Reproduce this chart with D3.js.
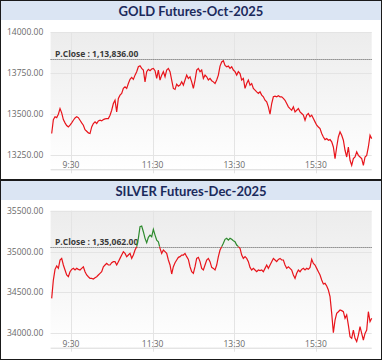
<!DOCTYPE html>
<html>
<head>
<meta charset="utf-8">
<script src="https://cdn.jsdelivr.net/npm/d3@7"></script>
<style>
body { margin: 0; background: #fff; }
svg { display: block; }
</style>
</head>
<body>
<svg width="383" height="362"></svg>
<script>
// x axis: samples every 147 s starting 09:01:36
var firstSample = "09:01:36";
var sampleStep = 147;
var timeTicks = ["09:30", "11:30", "13:30", "15:30"];

var goldTitle = "GOLD Futures-Oct-2025";
var goldTicks = [14000, 13750, 13500, 13250];
var goldClose = 13836;
var goldCloseLabel = "P.Close : 1,13,836.00";
var goldValues = [
    13383, 13468, 13485, 13480, 13501, 13535, 13509, 13468, 13448, 13432,
    13423, 13434, 13448, 13464, 13478, 13485, 13480, 13464, 13448, 13434,
    13407, 13397, 13387, 13383, 13423, 13444, 13454, 13444, 13460, 13464,
    13460, 13468, 13472, 13474, 13474, 13495, 13525, 13566, 13586, 13515,
    13597, 13617, 13627, 13658, 13668, 13658, 13688, 13713, 13725, 13713,
    13739, 13760, 13790, 13796, 13780, 13770, 13698, 13760, 13774, 13766,
    13776, 13780, 13766, 13719, 13770, 13709, 13739, 13760, 13729, 13770,
    13780, 13760, 13709, 13658, 13652, 13684, 13672, 13678, 13698, 13678,
    13709, 13739, 13719, 13729, 13698, 13658, 13709, 13770, 13780, 13760,
    13770, 13719, 13739, 13729, 13709, 13719, 13705, 13698, 13688, 13709,
    13739, 13794, 13819, 13827, 13798, 13790, 13794, 13780, 13790, 13770,
    13760, 13739, 13760, 13749, 13709, 13719, 13658, 13688, 13709, 13678,
    13688, 13658, 13648, 13637, 13627, 13637, 13617, 13607, 13586, 13576,
    13546, 13501, 13566, 13607, 13611, 13607, 13613, 13607, 13607, 13597,
    13586, 13566, 13546, 13535, 13525, 13546, 13515, 13525, 13535, 13515,
    13505, 13495, 13464, 13495, 13505, 13485, 13495, 13474, 13454, 13434,
    13423, 13413, 13383, 13362, 13346, 13352, 13342, 13346, 13332, 13301,
    13230, 13301, 13362, 13393, 13372, 13342, 13281, 13240, 13301, 13220,
    13189, 13230, 13240, 13271, 13250, 13240, 13230, 13189, 13240, 13250,
    13301, 13372, 13352
];

var silverTitle = "SILVER Futures-Dec-2025";
var silverTicks = [35500, 35000, 34500, 34000];
var silverClose = 35062;
var silverCloseLabel = "P.Close : 1,35,062.00";
var silverValues = [
    34428, 34652, 34783, 34824, 34795, 34897, 34917, 34836, 34775, 34714,
    34693, 34754, 34783, 34795, 34775, 34795, 34783, 34775, 34795, 34815,
    34754, 34714, 34693, 34673, 34673, 34665, 34681, 34693, 34714, 34734,
    34754, 34815, 34836, 34856, 34836, 34836, 34864, 34877, 34877, 34836,
    34877, 34917, 34958, 34999, 34978, 34938, 34958, 34978, 34917, 34958,
    35019, 35060, 35162, 35304, 35313, 35243, 35162, 35109, 35174, 35202,
    35182, 35272, 35202, 35141, 35121, 35040, 34978, 35019, 34999, 34978,
    34897, 34836, 34726, 34815, 34864, 34897, 34930, 34938, 34958, 34958,
    34978, 34938, 34905, 34815, 34754, 34734, 34815, 34917, 34930, 34877,
    34795, 34775, 34836, 34897, 34917, 34877, 34807, 34795, 34775, 34836,
    34938, 35019, 35060, 35101, 35150, 35162, 35141, 35162, 35150, 35133,
    35121, 35080, 35060, 35040, 34958, 34917, 34938, 34917, 34877, 34807,
    34775, 34795, 34775, 34754, 34775, 34767, 34775, 34754, 34795, 34836,
    34795, 34836, 34877, 34917, 34897, 34877, 34905, 34917, 34897, 34897,
    34836, 34795, 34815, 34795, 34775, 34714, 34673, 34734, 34775, 34754,
    34783, 34795, 34775, 34795, 34783, 34807, 34905, 34856, 34836, 34795,
    34754, 34714, 34652, 34603, 34612, 34579, 34530, 34449, 34245, 34009,
    34163, 34245, 34265, 34286, 34278, 34265, 34184, 34225, 34102, 33960,
    33939, 34041, 33939, 33899, 33980, 34082, 34000, 33919, 34000, 34041,
    34265, 34143, 34184
];

var svg = d3.select("svg");
var parseTime = d3.timeParse("%H:%M:%S");
var parseTick = d3.timeParse("%H:%M");
var start = parseTime(firstSample);

var x = d3.scaleTime()
    .domain([parseTick("09:00"), parseTick("16:52")])
    .range([50.6, 371.7]);

var defs = svg.append("defs");
var grad = defs.append("linearGradient")
    .attr("id", "plotbg")
    .attr("x1", 0).attr("y1", 0).attr("x2", 0).attr("y2", 1);
grad.append("stop").attr("offset", "0%").attr("stop-color", "#ececec");
grad.append("stop").attr("offset", "100%").attr("stop-color", "#ffffff");

var drawPanel = function(id, top, plotTop, title, ticks, domain, close, closeLabel, values) {
    var g = svg.append("g").attr("transform", "translate(0," + top + ")");
    var plotBottom = plotTop + 137;
    var y = d3.scaleLinear().domain(domain).range([plotBottom, plotTop]);
    var closeY = Math.round(y(close)) + 0.5;

    var data = values.map(function(v, i) {
        return { t: new Date(start.getTime() + i * sampleStep * 1000), v: v };
    });

    // title bar
    g.append("rect")
        .attr("x", 1).attr("y", 1).attr("width", 380).attr("height", 19)
        .attr("fill", "#dbe5f3");
    g.append("text")
        .attr("x", 191).attr("y", 15.5)
        .attr("text-anchor", "middle")
        .attr("font-family", "Lato, sans-serif")
        .attr("font-weight", 700)
        .attr("font-size", "13px")
        .attr("fill", "#1b2a5c")
        .text(title);

    // plot background
    g.append("rect")
        .attr("x", x.range()[0]).attr("y", plotTop)
        .attr("width", x.range()[1] - x.range()[0])
        .attr("height", plotBottom - plotTop)
        .attr("fill", "url(#plotbg)");

    // grid
    g.append("g").selectAll("line").data(ticks).enter().append("line")
        .attr("x1", x.range()[0]).attr("x2", x.range()[1])
        .attr("y1", function(d) { return Math.round(y(d)) + 0.5; })
        .attr("y2", function(d) { return Math.round(y(d)) + 0.5; })
        .attr("stroke", "#e4e4e4");
    g.append("g").selectAll("line").data(timeTicks).enter().append("line")
        .attr("x1", function(d) { return Math.round(x(parseTick(d))) + 0.5; })
        .attr("x2", function(d) { return Math.round(x(parseTick(d))) + 0.5; })
        .attr("y1", plotTop).attr("y2", plotBottom + 4)
        .attr("stroke", "#e4e4e4");
    g.append("line")
        .attr("x1", x.range()[0]).attr("x2", x.range()[1])
        .attr("y1", plotBottom + 0.5).attr("y2", plotBottom + 0.5)
        .attr("stroke", "#d8d8d8");

    // y labels
    g.append("g").selectAll("text").data(ticks).enter().append("text")
        .attr("x", 7)
        .attr("y", function(d) { return y(d) + 3; })
        .attr("font-family", "Open Sans, sans-serif")
        .attr("font-size", "8.5px")
        .attr("fill", "#6a6a6a")
        .text(function(d) { return d3.format(".2f")(d); });

    // x labels
    g.append("g").selectAll("text").data(timeTicks).enter().append("text")
        .attr("x", function(d) { return x(parseTick(d)); })
        .attr("y", plotBottom - 1)
        .attr("text-anchor", "middle")
        .attr("font-family", "Open Sans, sans-serif")
        .attr("font-size", "8.5px")
        .attr("fill", "#6a6a6a")
        .text(function(d) { return d.replace(/^0/, ""); });

    // previous close
    g.append("line")
        .attr("x1", x.range()[0]).attr("x2", x.range()[1])
        .attr("y1", closeY).attr("y2", closeY)
        .attr("stroke", "#555")
        .attr("stroke-width", 1)
        .attr("stroke-dasharray", "1,1");
    g.append("text")
        .attr("x", 55).attr("y", closeY - 2.5)
        .attr("font-family", "Open Sans, sans-serif")
        .attr("font-weight", 700)
        .attr("font-size", "8.5px")
        .attr("fill", "#3a3a3a")
        .text(closeLabel);

    // clip above / below close (local coordinates of the path)
    defs.append("clipPath").attr("id", id + "-up").append("rect")
        .attr("x", 0).attr("y", plotTop - 5).attr("width", 383)
        .attr("height", y(close) - plotTop + 5);
    defs.append("clipPath").attr("id", id + "-dn").append("rect")
        .attr("x", 0).attr("y", y(close)).attr("width", 383)
        .attr("height", plotBottom - y(close) + 5);

    var line = d3.line()
        .x(function(d) { return x(d.t); })
        .y(function(d) { return y(d.v); });

    g.append("path")
        .datum(data)
        .attr("clip-path", "url(#" + id + "-dn)")
        .attr("fill", "none")
        .attr("stroke", "#e8141b")
        .attr("stroke-width", 1.2)
        .attr("d", line);
    g.append("path")
        .datum(data)
        .attr("clip-path", "url(#" + id + "-up)")
        .attr("fill", "none")
        .attr("stroke", "#2d8a2d")
        .attr("stroke-width", 1.2)
        .attr("d", line);

    // frame
    g.append("rect")
        .attr("x", 0.5).attr("y", 0.5).attr("width", 381).attr("height", 179)
        .attr("fill", "none")
        .attr("stroke", "#1a1a1a");
};

drawPanel("gold", 0, 32.3, goldTitle, goldTicks, [13165, 14000], goldClose, goldCloseLabel, goldValues);
drawPanel("silver", 180, 30.7, silverTitle, silverTicks, [33825, 35500], silverClose, silverCloseLabel, silverValues);
</script>
</body>
</html>
